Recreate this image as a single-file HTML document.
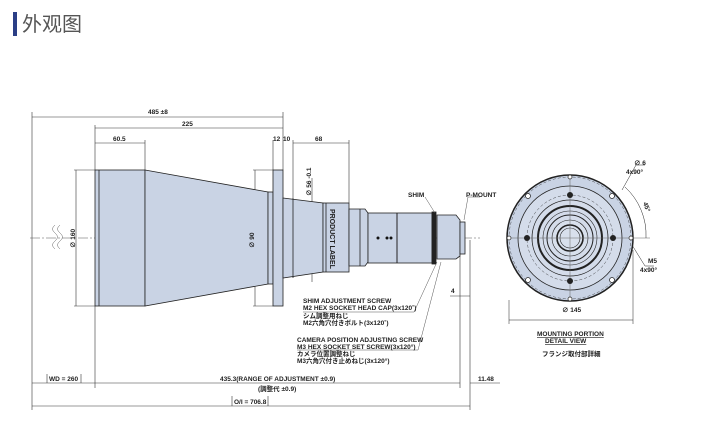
<!DOCTYPE html>
<html><head><meta charset="utf-8"><style>
body{margin:0;background:#fff;width:722px;height:441px;overflow:hidden}
svg{position:absolute;left:0;top:0}
text{font-family:"Liberation Sans","Noto Sans CJK JP",sans-serif;font-weight:bold;fill:#222}
</style></head><body>
<svg width="722" height="441" viewBox="0 0 722 441">
<rect x="13" y="12" width="4" height="24" fill="#2b3f86"/>
<text x="22" y="31" style="font-size:20px;font-weight:normal;fill:#555;font-family:'Noto Sans CJK SC',sans-serif">外观图</text>
<g stroke="#333" stroke-width="0.6" fill="none">
<line x1="32" y1="117" x2="283" y2="117"/><line x1="32" y1="112" x2="32" y2="410"/>
<line x1="95" y1="128" x2="283" y2="128"/><line x1="95" y1="125" x2="95" y2="170"/>
<line x1="283" y1="112" x2="283" y2="170"/>
<line x1="95" y1="143" x2="145" y2="143"/><line x1="145" y1="140" x2="145" y2="170"/>
<line x1="273" y1="140" x2="273" y2="170"/><line x1="293" y1="140" x2="293" y2="198"/>
<line x1="293" y1="143" x2="349" y2="143"/><line x1="349" y1="140" x2="349" y2="203"/>
<line x1="76" y1="170" x2="76" y2="306"/><line x1="74" y1="170" x2="95" y2="170"/><line x1="74" y1="306" x2="95" y2="306"/>
<line x1="255" y1="170" x2="255" y2="306"/><line x1="253" y1="170" x2="273" y2="170"/><line x1="253" y1="306" x2="273" y2="306"/>
<line x1="312" y1="178" x2="312" y2="282"/>
<line x1="95" y1="306" x2="95" y2="388"/>
<line x1="460" y1="256" x2="460" y2="388"/><line x1="470" y1="240" x2="470" y2="410"/>
<line x1="32" y1="383" x2="95" y2="383"/><line x1="95" y1="383" x2="460" y2="383"/><line x1="470" y1="383" x2="500" y2="383"/>
<line x1="32" y1="406" x2="470" y2="406"/>
<line x1="47" y1="374" x2="47" y2="383"/><line x1="81" y1="374" x2="81" y2="383"/>
<line x1="232" y1="396" x2="232" y2="406"/><line x1="268" y1="396" x2="268" y2="406"/>
<line x1="450" y1="296" x2="470" y2="296"/>
</g>
<line x1="30" y1="238" x2="480" y2="238" stroke="#555" stroke-width="0.5" stroke-dasharray="10,2,2,2"/>
<path d="M55 225 q-5 4 0 8 q5 4 0 8 q-5 4 0 8 M60 225 q-5 4 0 8 q5 4 0 8 q-5 4 0 8" stroke="#666" stroke-width="0.5" fill="none"/>
<g fill="#c9d3e4" stroke="#222" stroke-width="0.8">
<rect x="95" y="170" width="50" height="136"/>
<line x1="99" y1="170" x2="99" y2="306"/>
<polygon points="145,170 268,192 268,284 145,306"/>
<rect x="268" y="192" width="5" height="92"/>
<rect x="273" y="170" width="10" height="136"/>
<polygon points="283,198 323,203 323,272 283,278"/>
<line x1="293" y1="198" x2="293" y2="278"/>
<rect x="323" y="203" width="26" height="69"/>
<line x1="326" y1="203" x2="326" y2="272"/>
<polygon points="349,209 365,209 368,213 368,262 365,266 349,266"/>
<line x1="360" y1="209" x2="360" y2="266"/>
<rect x="368" y="213" width="64" height="50"/>
<line x1="397" y1="213" x2="397" y2="263" stroke-width="1"/>
<rect x="432" y="212" width="4" height="52" fill="#222"/>
<polygon points="437,215 456,215 460,220 460,256 456,259 437,259"/>
<rect x="460" y="222" width="5" height="32"/>
</g>
<text transform="translate(330,209) rotate(90)" style="font-size:7px">PRODUCT LABEL</text>
<circle cx="378" cy="238" r="1.5" fill="#111"/><circle cx="387" cy="238" r="1.5" fill="#111"/><circle cx="391" cy="238" r="1.5" fill="#111"/>
<g stroke="#555" stroke-width="0.5" fill="none">
<path d="M425 197 L435 213"/><path d="M480 197 L468 197 L464 220"/>
<path d="M303 312 L414 312 L437 262"/><path d="M297 350 L418 350 L441 262"/>
</g>
<g style="font-size:6.5px">
<text x="148" y="114">485 ±8</text><text x="182" y="126">225</text><text x="113" y="141">60.5</text>
<text x="273" y="141">12</text><text x="283" y="141">10</text><text x="315" y="141">68</text>
<text x="408" y="197">SHIM</text><text x="466" y="197">P-MOUNT</text>
<text x="451" y="293">4</text>
<text transform="translate(75,248) rotate(-90)">∅ 160</text>
<text transform="translate(254,248) rotate(-90)">∅ 90</text>
<text transform="translate(311,196) rotate(-90)">∅ 56 -0.1</text>
<text x="303" y="303">SHIM ADJUSTMENT SCREW</text>
<text x="303" y="310">M2 HEX SOCKET HEAD CAP(3x120˚)</text>
<text x="303" y="318">シム調整用ねじ</text>
<text x="303" y="325">M2六角穴付きボルト(3x120˚)</text>
<text x="297" y="342">CAMERA POSITION ADJUSTING SCREW</text>
<text x="297" y="349">M3 HEX SOCKET SET SCREW(3x120°)</text>
<text x="297" y="356">カメラ位置調整ねじ</text>
<text x="297" y="363">M3六角穴付き止めねじ(3x120°)</text>
<text x="49" y="381">WD = 260</text>
<text x="220" y="381">435.3(RANGE OF ADJUSTMENT ±0.9)</text>
<text x="258" y="391">(調整代 ±0.9)</text>
<text x="478" y="381">11.48</text>
<text x="234" y="404">O/I = 706.8</text>
<text x="634" y="165">∅ 6</text><text x="626" y="174">4x90°</text>
<text x="648" y="263">M5</text><text x="640" y="272">4x90°</text>
<text transform="translate(643,203) rotate(70)">45°</text>
<text x="562" y="312">∅ 145</text>
<text x="537" y="336" text-decoration="underline">MOUNTING PORTION</text>
<text x="545" y="343" text-decoration="underline">DETAIL VIEW</text>
<text x="542" y="356">フランジ取付部詳細</text>
</g>
<g stroke="#222" fill="none">
<circle cx="570" cy="238" r="63" fill="#c9d3e4" stroke-width="1.5"/>
<circle cx="570" cy="238" r="52" stroke-width="0.8" fill="#d4dcea"/>
<circle cx="570" cy="238" r="61" stroke-width="0.4" stroke-dasharray="3,2"/>
<circle cx="570" cy="238" r="43" stroke-width="0.4" stroke-dasharray="3,2"/>
<circle cx="570" cy="238" r="38" stroke-width="0.8"/>
<circle cx="570" cy="238" r="32" stroke-width="2"/>
<circle cx="570" cy="238" r="27" stroke-width="0.6"/>
<circle cx="570" cy="238" r="23" stroke-width="1"/>
<circle cx="570" cy="238" r="18" stroke-width="0.6" fill="#d8e0ec"/>
<circle cx="570" cy="238" r="13" stroke-width="1.6"/>
<circle cx="570" cy="238" r="10" stroke-width="0.6"/>
<line x1="509" y1="238" x2="650" y2="238" stroke="#666" stroke-width="0.5"/>
<line x1="570" y1="175" x2="570" y2="301" stroke="#666" stroke-width="0.5"/>
<line x1="509" y1="300" x2="509" y2="324" stroke-width="0.5"/><line x1="633" y1="250" x2="633" y2="324" stroke-width="0.5"/>
<line x1="509" y1="320" x2="633" y2="320" stroke-width="0.5"/>
<path d="M625 187 A65 65 0 0 1 646 238" stroke-width="0.5"/>
<path d="M622 190 L636 165 L645 165 M632 245 L645 266 L654 266" stroke-width="0.5"/>
</g>
<g fill="#222">
<circle cx="570" cy="195" r="3"/><circle cx="570" cy="281" r="3"/><circle cx="527" cy="238" r="3"/><circle cx="613" cy="238" r="3"/>
</g>
<g fill="#fff" stroke="#222" stroke-width="0.7">
<circle cx="570" cy="177" r="2"/><circle cx="570" cy="299" r="2"/><circle cx="509" cy="238" r="2"/><circle cx="631" cy="238" r="2"/>
<circle cx="528" cy="196" r="2.5"/><circle cx="612" cy="196" r="2.5"/><circle cx="528" cy="280" r="2.5"/><circle cx="612" cy="280" r="2.5"/>
</g>
</svg>
</body></html>
